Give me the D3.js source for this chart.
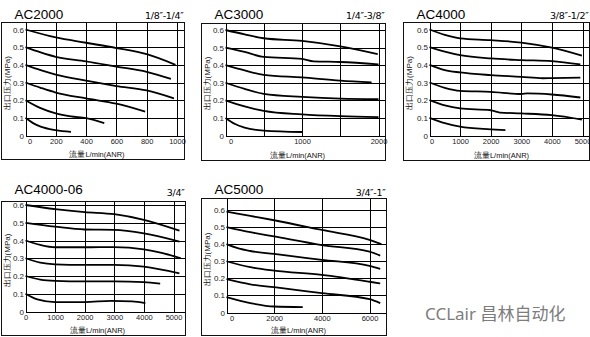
<!DOCTYPE html>
<html>
<head>
<meta charset="utf-8">
<script src="https://cdn.jsdelivr.net/npm/d3@7"></script>
<style>
  body { margin: 0; background: #fff; }
  svg { display: block; font-family: "Liberation Sans", Arial, sans-serif; }
  .tick line { stroke: #000; stroke-width: 1; shape-rendering: crispEdges; }
  .tick text { fill: #222; }
  .frame { fill: none; stroke: #111; stroke-width: 1; shape-rendering: crispEdges; }
  .curve { fill: none; stroke: #000; stroke-width: 1.8; }
</style>
</head>
<body>
<svg id="chart" width="590" height="337"></svg>
<script>
// outlet pressure (MPa) vs flow rate L/min(ANR), one curve per set pressure
const ac2000 = [
  [[0, .6], [200, .555], [400, .525], [600, .495], [800, .46], [990, .40]],
  [[0, .5], [100, .47], [200, .445], [400, .42], [600, .39], [800, .36], [960, .32]],
  [[0, .4], [100, .37], [200, .345], [400, .31], [600, .28], [800, .255], [980, .21]],
  [[0, .3], [100, .27], [200, .243], [400, .21], [600, .18], [790, .135]],
  [[0, .2], [100, .155], [200, .125], [300, .108], [400, .098], [520, .07]],
  [[0, .1], [50, .07], [100, .05], [200, .03], [300, .02]]
];
const ac3000 = [
  [[0, .6], [250, .575], [500, .553], [1000, .538], [1500, .507], [1990, .463]],
  [[0, .5], [250, .475], [500, .447], [1000, .436], [1150, .422], [1500, .418], [2000, .405]],
  [[0, .4], [250, .37], [500, .345], [1000, .33], [1500, .312], [1910, .302]],
  [[0, .3], [250, .265], [500, .237], [1000, .22], [1500, .21], [2000, .207]],
  [[0, .2], [250, .165], [500, .14], [1000, .12], [1500, .11], [2000, .105]],
  [[0, .1], [125, .065], [250, .045], [500, .028], [1000, .02]]
];
const ac4000 = [
  [[0, .6], [500, .57], [1000, .55], [2000, .54], [3000, .526], [4000, .497], [4980, .452]],
  [[0, .5], [500, .475], [1000, .455], [2000, .436], [3000, .427], [4000, .421], [4930, .402]],
  [[0, .4], [500, .37], [1000, .357], [2000, .342], [3000, .332], [3700, .324], [4000, .325], [4930, .328]],
  [[0, .3], [500, .27], [1000, .253], [2000, .247], [3000, .235], [3200, .238], [4000, .232], [4930, .215]],
  [[0, .2], [500, .17], [1000, .153], [2000, .143], [2300, .13], [3000, .125], [4000, .115], [4980, .09]],
  [[0, .1], [500, .07], [1000, .05], [2000, .035], [2480, .03]]
];
const ac400006 = [
  [[0, .6], [1000, .577], [2000, .56], [3000, .548], [4000, .516], [5200, .455]],
  [[0, .5], [1000, .478], [2000, .462], [3000, .46], [4000, .44], [5200, .394]],
  [[0, .4], [500, .375], [1000, .362], [2000, .362], [3000, .363], [4000, .35], [4600, .33], [5250, .3]],
  [[0, .3], [500, .275], [1000, .266], [2000, .263], [3000, .263], [4000, .253], [5200, .215]],
  [[0, .2], [500, .18], [1000, .173], [2000, .17], [3000, .17], [4000, .165], [4550, .157]],
  [[0, .1], [400, .068], [1000, .053], [2000, .053], [2900, .06], [3600, .057], [4050, .047]]
];
const ac5000 = [
  [[0, .59], [1000, .565], [2000, .54], [4000, .483], [6000, .425], [6500, .4]],
  [[0, .5], [1000, .47], [2000, .445], [4000, .395], [6000, .357], [6450, .333]],
  [[0, .4], [500, .375], [1000, .36], [2000, .343], [4000, .308], [6000, .273], [6450, .255]],
  [[0, .3], [1000, .265], [2000, .245], [4000, .22], [6000, .18], [6450, .17]],
  [[0, .195], [1000, .165], [2000, .148], [4000, .113], [6000, .078], [6450, .055]],
  [[0, .09], [1000, .055], [2000, .035], [3200, .032]]
];

const pressureTicks = [0, .1, .2, .3, .4, .5, .6];
const titles = ['AC2000', 'AC3000', 'AC4000', 'AC4000-06', 'AC5000'];
const portSizes = ['1/8″-1/4″', '1/4″-3/8″', '3/8″-1/2″', '3/4″', '3/4″-1″'];
const flowGrid = [
  [0, 200, 400, 600, 800, 1000],
  [0, 500, 1000, 1500, 2000],
  [0, 1000, 2000, 3000, 4000, 5000],
  [0, 1000, 2000, 3000, 4000, 5000],
  [0, 2000, 4000, 6000]
];
const flowLabels = [
  [0, 200, 400, 600, 800, 1000],
  [0, 1000, 2000],
  [0, 1000, 2000, 3000, 4000, 5000],
  [0, 1000, 2000, 3000, 4000, 5000],
  [0, 2000, 4000, 6000]
];
const flowMax = [1000, 2000, 5000, 5000, 6000];

const yLabel = '出口压力(MPa)';
const xLabel = '流量L/min(ANR)';

// frame [left, top, right, bottom], axis x, y of 0 and 0.6, pixel of flowMax
const layout = [
  {box: [1.5, 22.5, 184.5, 159.5], ax: 25.5, y0: 135.5, y6: 29.5, xm: 177,   zeroShift: 4, tb: 18.5, sb: 18.5},
  {box: [201.5, 23.5, 385.5, 160.5], ax: 225.5, y0: 135.5, y6: 30,  xm: 378.5, zeroShift: 5, tb: 18.5, sb: 18.5},
  {box: [403.5, 22.5, 589.5, 160.5], ax: 429.5, y0: 135.5, y6: 29.5, xm: 582.5, zeroShift: 2, tb: 18.5, sb: 18.5},
  {box: [1.5, 201.5, 185.5, 335.5], ax: 25.5, y0: 311.5, y6: 205,  xm: 173.5, zeroShift: 0, tb: 194, sb: 196},
  {box: [201.5, 198.5, 386.5, 335.5], ax: 226.5, y0: 312.5, y6: 210, xm: 369.5, zeroShift: 5, tb: 193.5, sb: 196}
];

const allCurves = [ac2000, ac3000, ac4000, ac400006, ac5000];

const svg = d3.select('#chart');

const line = d3.line().curve(d3.curveMonotoneX);

allCurves.forEach(function(curves, i) {
  const L = layout[i];
  const [bx0, by0, bx1, by1] = L.box;
  const x = d3.scaleLinear().domain([0, flowMax[i]]).range([L.ax, L.xm]);
  const y = d3.scaleLinear().domain([0, .6]).range([L.y0, L.y6]);
  const g = svg.append('g');

  // horizontal grid + pressure labels
  const yAxis = d3.axisLeft(y)
    .tickValues(pressureTicks)
    .tickSize(-(bx1 - L.ax))
    .tickPadding(1.5)
    .tickFormat(d => d === 0 ? '0' : d.toFixed(1));
  g.append('g').attr('transform', 'translate(' + L.ax + ',0)').call(yAxis)
    .call(s => s.select('.domain').remove())
    .call(s => s.selectAll('text').attr('font-size', 8).attr('font-family', null));

  // vertical grid + flow labels
  const labels = flowLabels[i];
  const xAxis = d3.axisBottom(x)
    .tickValues(flowGrid[i])
    .tickSize(-(L.y0 - by0))
    .tickPadding(3.5)
    .tickFormat(d => labels.includes(d) ? d : '');
  g.append('g').attr('transform', 'translate(0,' + L.y0 + ')').call(xAxis)
    .call(s => s.select('.domain').remove())
    .call(s => s.selectAll('text').attr('font-size', 7.5).attr('font-family', null))
    .call(s => s.selectAll('.tick').filter(d => d === 0).select('text').attr('dx', L.zeroShift));

  // frame
  g.append('rect').attr('class', 'frame')
    .attr('x', bx0).attr('y', by0)
    .attr('width', bx1 - bx0).attr('height', by1 - by0);

  // curves
  g.selectAll('path.curve')
    .data(curves)
    .enter()
    .append('path')
    .attr('class', 'curve')
    .attr('d', d => line(d.map(p => [x(p[0]), y(p[1])])));

  // titles
  g.append('text').attr('x', bx0 + 13).attr('y', L.tb)
    .attr('font-size', 13.5).attr('fill', '#000').text(titles[i]);
  g.append('text').attr('x', bx1 - 1).attr('y', L.sb)
    .attr('text-anchor', 'end').attr('font-size', 9.5).attr('fill', '#000')
    .attr('font-family', '"DejaVu Sans", sans-serif')
    .attr('letter-spacing', -0.3)
    .text(portSizes[i]);

  // axis titles
  const midY = (by0 + L.y0) / 2 + 4;
  g.append('text')
    .attr('transform', 'translate(' + (bx0 + 8.5) + ',' + midY + ') rotate(-90)')
    .attr('text-anchor', 'middle').attr('font-size', 8).attr('fill', '#111')
    .text(yLabel);
  g.append('text')
    .attr('x', (L.ax + bx1) / 2 - 8).attr('y', by1 - 2.5)
    .attr('text-anchor', 'middle').attr('font-size', 7.5).attr('fill', '#111')
    .text(xLabel);
});

svg.append('text')
  .attr('x', 425).attr('y', 320)
  .attr('font-family', '"Noto Sans", "Noto Sans CJK SC", sans-serif')
  .attr('font-size', 17).attr('fill', '#7d7d7d')
  .text('CCLair 昌林自动化');
</script>
</body>
</html>
